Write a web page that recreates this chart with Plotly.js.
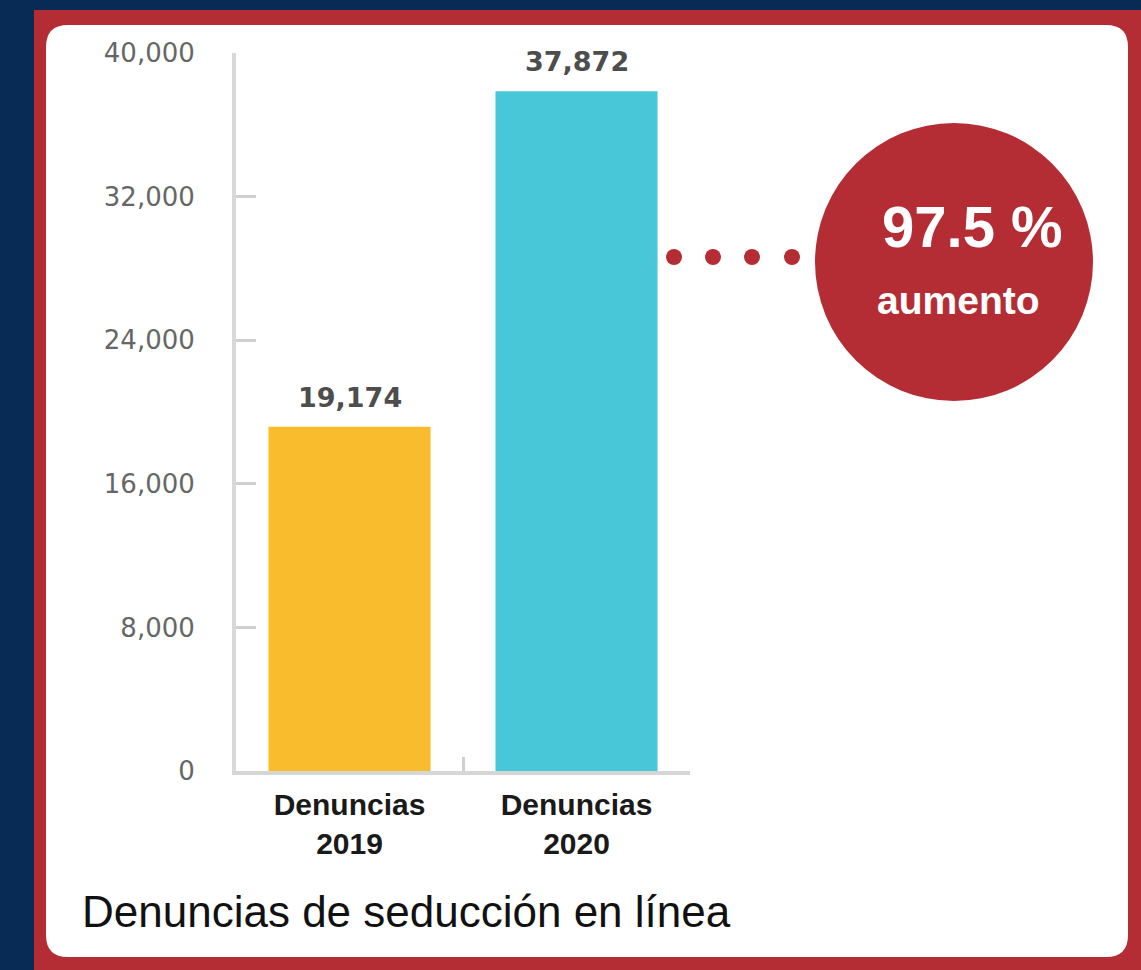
<!DOCTYPE html>
<html>
<head>
<meta charset="utf-8">
<script src="https://cdn.plot.ly/plotly-3.0.1.min.js"></script>
<style>
html,body{margin:0;padding:0;background:#072b55;}
#chart{width:1141px;height:970px;}
</style>
</head>
<body>
<div id="chart"></div>
<script>
// ---- data ----
const categories = ["Denuncias<br>2019", "Denuncias<br>2020"];
const values = [19174, 37872];
const barColors = ["#f9bc2d", "#48c7d8"];
const yTicks = [0, 8000, 16000, 24000, 32000, 40000];
const increaseLabel = "97.5 %";
const increaseSub = "aumento";
const chartTitle = "Denuncias de seducción en línea";

// ---- helpers (pixel -> paper) ----
const W = 1141, H = 970;
const px = x => x / W;
const py = y => 1 - y / H;

const RED = "#b52d34";

function roundedRectPath(x0, y0, x1, y1, r) {
  const P = (x, y) => px(x) + "," + py(y);
  return "M" + P(x0 + r, y0) +
    " L" + P(x1 - r, y0) + " Q" + P(x1, y0) + " " + P(x1, y0 + r) +
    " L" + P(x1, y1 - r) + " Q" + P(x1, y1) + " " + P(x1 - r, y1) +
    " L" + P(x0 + r, y1) + " Q" + P(x0, y1) + " " + P(x0, y1 - r) +
    " L" + P(x0, y0 + r) + " Q" + P(x0, y0) + " " + P(x0 + r, y0) + " Z";
}

const shapes = [
  // red frame
  {type: "rect", xref: "paper", yref: "paper", x0: px(34), x1: px(1141), y0: py(970), y1: py(10),
   fillcolor: RED, line: {width: 0}, layer: "below"},
  // white panel
  {type: "path", xref: "paper", yref: "paper", path: roundedRectPath(46, 25, 1128, 957, 22),
   fillcolor: "#ffffff", line: {width: 0}, layer: "below"},
  // red circle
  {type: "circle", xref: "paper", yref: "paper", x0: px(815), x1: px(1093), y0: py(401), y1: py(123),
   fillcolor: RED, line: {width: 0}, layer: "below"}
];
// dotted connector
[674, 713, 752, 792].forEach(cx => {
  shapes.push({type: "circle", xref: "paper", yref: "paper",
    x0: px(cx - 8), x1: px(cx + 8), y0: py(257 + 8), y1: py(257 - 8),
    fillcolor: RED, line: {width: 0}, layer: "below"});
});

const annotations = values.map((v, i) => ({
  x: categories[i], y: v, xref: "x", yref: "y",
  text: v.toLocaleString("en-US"), showarrow: false,
  yanchor: "bottom", yshift: 12,
  font: {family: "DejaVu Sans", size: 27, color: "#4d4d4d", weight: "bold"}
}));
annotations.push({
  xref: "paper", yref: "paper", x: px(972), y: py(226), text: "<b>" + increaseLabel + "</b>",
  showarrow: false, xanchor: "center", yanchor: "middle",
  font: {family: "Liberation Sans", size: 58, color: "#ffffff"}
});
annotations.push({
  xref: "paper", yref: "paper", x: px(958), y: py(300), text: "<b>" + increaseSub + "</b>",
  showarrow: false, xanchor: "center", yanchor: "middle",
  font: {family: "Liberation Sans", size: 39, color: "#ffffff"}
});

const trace = {
  type: "bar", x: categories, y: values,
  marker: {color: barColors, line: {width: 0}},
  hoverinfo: "skip"
};

const layout = {
  width: W, height: H,
  margin: {l: 0, r: 0, t: 0, b: 0},
  paper_bgcolor: "#072b55",
  plot_bgcolor: "rgba(0,0,0,0)",
  showlegend: false,
  bargap: 0.286,
  title: {
    text: chartTitle, x: px(82), xanchor: "left", xref: "paper",
    y: py(912), yanchor: "middle", yref: "paper",
    font: {family: "Liberation Sans", size: 44, color: "#111111"}
  },
  xaxis: {
    domain: [px(236), px(690)],
    type: "category", range: [-0.5, 1.5],
    showline: true, linecolor: "#d6d6d6", linewidth: 4,
    ticks: "inside", tickson: "boundaries", ticklen: 14, tickwidth: 3, tickcolor: "#cfcfcf",
    showgrid: false, zeroline: false,
    tickfont: {family: "Liberation Sans", size: 30, color: "#1a1a1a", weight: "bold"},
    ticklabelstandoff: 4,
    fixedrange: true
  },
  yaxis: {
    domain: [py(771), py(53)],
    range: [0, 40000], tickvals: yTicks, tickformat: ",d",
    showline: true, linecolor: "#d9d9d9", linewidth: 4,
    ticks: "inside", ticklen: 20, tickwidth: 3, tickcolor: "#d0d0d0",
    showgrid: false, zeroline: false,
    tickfont: {family: "DejaVu Sans", size: 26, color: "#666666"},
    ticklabelstandoff: 32,
    fixedrange: true
  },
  shapes: shapes,
  annotations: annotations
};

Plotly.newPlot("chart", [trace], layout, {displayModeBar: false, staticPlot: true});
</script>
</body>
</html>
